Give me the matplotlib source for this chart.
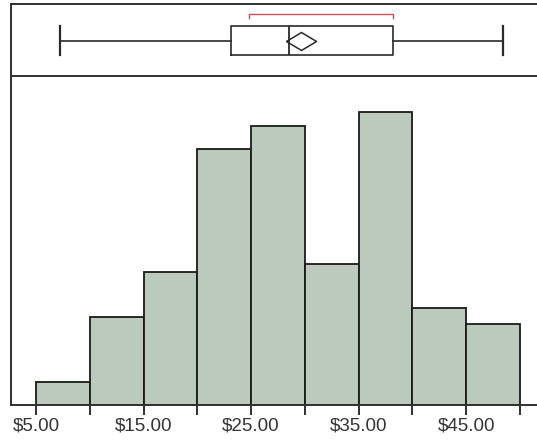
import matplotlib
matplotlib.use("Agg")
import matplotlib.pyplot as plt
from matplotlib.ticker import FixedLocator, NullFormatter, FuncFormatter

plt.rcParams['font.family'] = ['Liberation Sans', 'DejaVu Sans']

# ---- data ----
bin_edges = [5, 10, 15, 20, 25, 30, 35, 40, 45, 50]
percents = [1.63, 6.35, 9.54, 18.43, 20.06, 10.11, 21.04, 6.95, 5.82]
labeled_ticks = [5, 15, 25, 35, 45]
unlabeled_ticks = [10, 20, 30, 40, 50]

whisker_low = 7.23
q1 = 23.17
median = 28.55
q3 = 38.16
whisker_high = 48.4
mean = 29.6
shortest_half = [24.8, 38.16]

# ---- style ----
W, H = 537, 446
fig = plt.figure(figsize=(W / 100, H / 100), dpi=100)
fig.patch.set_facecolor('white')

xlim = (2.68, 51.58)
left = 11 / W
width = 1.0 - left
frame_col = '#303030'
frame_lw = 1.4
bar_col = '#bccabd'

def px_to_fig(top_px, bottom_px):
    return (H - bottom_px) / H, (bottom_px - top_px) / H

# histogram panel
hb, hh = px_to_fig(76, 405)
axh = fig.add_axes([left, hb, width, hh])
widths = [bin_edges[i + 1] - bin_edges[i] for i in range(len(percents))]
axh.bar(bin_edges[:-1], percents, width=widths, align='edge',
        color=bar_col, edgecolor='#1a1a1a', linewidth=1.3, zorder=2)
axh.set_xlim(*xlim)
axh.set_ylim(0, 23.65)
axh.set_yticks([])
axh.xaxis.set_major_locator(FixedLocator(labeled_ticks))
axh.xaxis.set_minor_locator(FixedLocator(unlabeled_ticks))
axh.xaxis.set_major_formatter(FuncFormatter(lambda v, p: f"${v:.2f}"))
axh.xaxis.set_minor_formatter(NullFormatter())
axh.tick_params(axis='x', which='both', direction='out', length=7.5,
                width=1.3, color='#202020', pad=1.5, labelsize=13.5,
                labelcolor='#333333')
for s in ['top', 'right']:
    axh.spines[s].set_visible(False)
for s in ['left', 'bottom']:
    axh.spines[s].set_color(frame_col)
    axh.spines[s].set_linewidth(frame_lw)

# box plot panel
bb, bh = px_to_fig(4, 76)
axb = fig.add_axes([left, bb, width, bh])
axb.set_xlim(*xlim)
axb.set_ylim(0, 1)
axb.set_xticks([])
axb.set_yticks([])
axb.spines['right'].set_visible(False)
for s in ['left', 'bottom', 'top']:
    axb.spines[s].set_color(frame_col)
    axb.spines[s].set_linewidth(frame_lw)

stats = [dict(whislo=whisker_low, q1=q1, med=median, q3=q3,
              whishi=whisker_high, mean=mean, fliers=[])]
line_col = '#2a2a2a'
axb.bxp(stats, positions=[0.493], widths=0.40, capwidths=0.40,
        orientation='horizontal', showmeans=False, showfliers=False,
        boxprops=dict(color=line_col, linewidth=1.2),
        whiskerprops=dict(color=line_col, linewidth=1.2),
        capprops=dict(color=line_col, linewidth=1.6),
        medianprops=dict(color=line_col, linewidth=1.3),
        manage_ticks=False)
diamond = [(-1, 0), (0, 0.6), (1, 0), (0, -0.6), (-1, 0)]
axb.plot([mean], [0.493], marker=diamond, markersize=21.6,
         markerfacecolor='none', markeredgecolor=line_col,
         markeredgewidth=1.1, linestyle='none', zorder=5)

# shortest half bracket
red = '#c85060'
axb.plot([shortest_half[0], shortest_half[0], shortest_half[1], shortest_half[1]],
         [0.805, 0.865, 0.865, 0.805], color=red, linewidth=1.0,
         solid_joinstyle='miter')

fig.savefig('out.png', dpi=100, facecolor='white')
